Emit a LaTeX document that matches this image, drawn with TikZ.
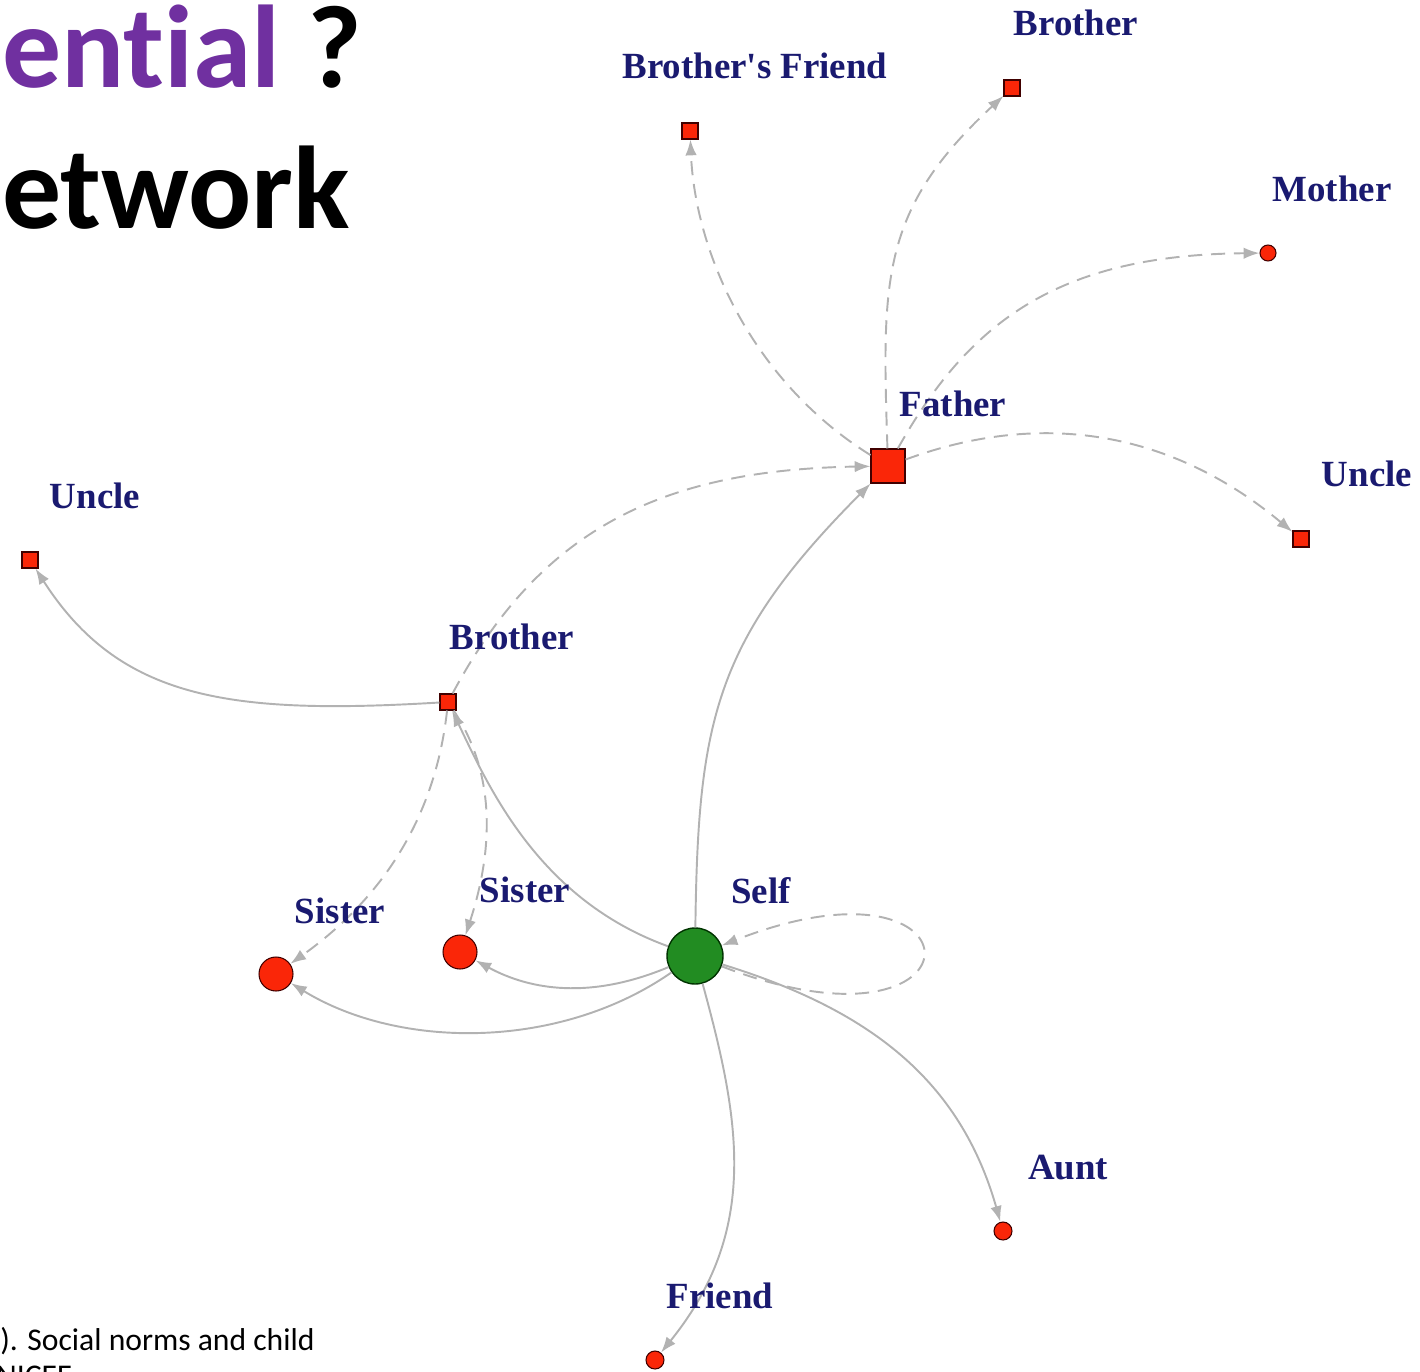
\documentclass[tikz,border=0pt]{standalone}
\usepackage{fontspec}
\setmainfont{Liberation Serif}[Ligatures=TeXOff]
\newfontfamily\calibri{Carlito}[Ligatures=NoCommon]
\usetikzlibrary{arrows.meta}

\definecolor{nodered}{RGB}{250,38,8}
\definecolor{nodegreen}{RGB}{34,140,34}
\definecolor{labelnavy}{RGB}{26,26,112}
\definecolor{linkgray}{RGB}{178,178,178}
\definecolor{titlepurple}{RGB}{112,48,160}

\begin{document}
\begin{tikzpicture}[x=0.02cm, y=-0.02cm,
    sq/.style={rectangle, draw=black!75!red, fill=nodered, line width=0.6pt, minimum size=#1, inner sep=0pt},
    dot/.style={circle, draw=black!75!red, fill=nodered, line width=0.6pt, minimum size=#1, inner sep=0pt},
    lbl/.style={text=labelnavy, font=\fontsize{21}{25}\selectfont\bfseries, inner sep=0pt},
    link/.style={draw=linkgray, line width=1.1pt, -{Latex[length=9pt,width=6.5pt]}},
    linkdash/.style={link, dash pattern=on 8pt off 5pt}]

    % --- Canvas ---
    \useasboundingbox (0,0) rectangle (1420,1372);

    % --- Title and reference (cut off at the edges) ---
    \node[anchor=base west, inner sep=0pt, font=\calibri\bfseries\fontsize{67}{72}\selectfont] (title1) at (2,88) {\textcolor{titlepurple}{ential} ?};
    \node[anchor=base west, inner sep=0pt, font=\calibri\bfseries\fontsize{67}{72}\selectfont] (title2) at (2,228) {etwork};
    \node[anchor=base west, inner sep=0pt, font=\calibri\fontsize{18}{22}\selectfont] (ref1) at (0,1350) {). Social norms and child};
    \node[anchor=base west, inner sep=0pt, font=\calibri\fontsize{18}{22}\selectfont] (ref2) at (-4,1386) {NICEF};

    % --- Nodes ---
    \node[sq=0.32cm] (bfriend) at (690,131) {};
    \node[sq=0.32cm] (brotherT) at (1012,88) {};
    \node[dot=0.32cm] (mother) at (1268,253) {};
    \node[sq=0.68cm] (father) at (888,466) {};
    \node[sq=0.32cm] (uncleR) at (1301,539) {};
    \node[sq=0.32cm] (uncleL) at (30,560) {};
    \node[sq=0.32cm] (brotherM) at (448,702) {};
    \node[dot=0.68cm] (sisterL) at (276,974) {};
    \node[dot=0.68cm] (sisterM) at (460,952) {};
    \node[circle, draw=black!80!green, fill=nodegreen, line width=0.8pt, minimum size=1.12cm, inner sep=0pt] (self) at (695,956) {};
    \node[dot=0.36cm] (aunt) at (1003,1231) {};
    \node[dot=0.36cm] (friend) at (655,1360) {};

    % --- Dashed ties ---
    \draw[linkdash] (father) .. controls (750,380) and (695,250) .. (bfriend);
    \draw[linkdash] (father) .. controls (882,280) and (880,210) .. (brotherT);
    \draw[linkdash] (father) .. controls (970,320) and (1060,255) .. (mother);
    \draw[linkdash] (father) .. controls (1040,410) and (1170,430) .. (uncleR);
    \draw[linkdash] (brotherM) .. controls (540,530) and (660,470) .. (father);
    \draw[linkdash] (brotherM) .. controls (435,820) and (380,900) .. (sisterL);
    \draw[linkdash] (brotherM) .. controls (500,780) and (490,860) .. (sisterM);
    \draw[linkdash] (self) .. controls (990,1070) and (990,840) .. (self);

    % --- Solid ties ---
    \draw[link] (self) .. controls (698,720) and (715,640) .. (father);
    \draw[link] (self) .. controls (540,900) and (490,790) .. (brotherM);
    \draw[link] (brotherM) .. controls (230,715) and (120,700) .. (uncleL);
    \draw[link] (self) .. controls (590,1000) and (530,990) .. (sisterM);
    \draw[link] (self) .. controls (560,1050) and (400,1050) .. (sisterL);
    \draw[link] (self) .. controls (870,1010) and (960,1080) .. (aunt);
    \draw[link] (self) .. controls (740,1120) and (760,1230) .. (friend);

    % --- Labels ---
    \node[lbl] (bfriendLbl) at (755,66) {Brother's Friend};
    \node[lbl] (brotherTLbl) at (1076,23) {Brother};
    \node[lbl] (motherLbl) at (1332,189) {Mother};
    \node[lbl] (fatherLbl) at (953,404) {Father};
    \node[lbl] (uncleRLbl) at (1367,474) {Uncle};
    \node[lbl] (uncleLLbl) at (95,496) {Uncle};
    \node[lbl] (brotherMLbl) at (512,637) {Brother};
    \node[lbl] (sisterLLbl) at (340,911) {Sister};
    \node[lbl] (sisterMLbl) at (525,890) {Sister};
    \node[lbl] (selfLbl) at (761,891) {Self};
    \node[lbl] (auntLbl) at (1068,1168) {Aunt};
    \node[lbl] (friendLbl) at (720,1296) {Friend};

\end{tikzpicture}
\end{document}
